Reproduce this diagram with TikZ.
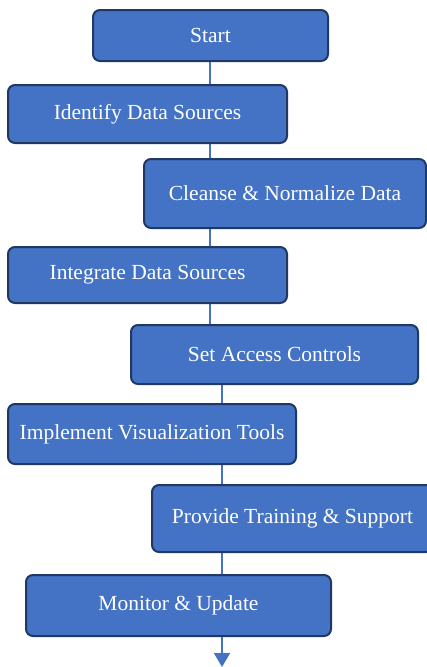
\documentclass[tikz,border=0pt]{standalone}
\usepackage{fontspec}
\setmainfont{Liberation Serif}
\usetikzlibrary{arrows.meta,backgrounds,positioning}
\definecolor{cblue}{RGB}{68,114,196}
\definecolor{cnavy}{RGB}{31,56,100}

\begin{document}
\begin{tikzpicture}[x=1pt,y=-1pt,
    stepbox/.style={rectangle, rounded corners=7pt, draw=cnavy, line width=2pt, fill=cblue,
      text=white, font=\fontsize{21.5}{25}\selectfont, inner sep=0pt},
    flow/.style={cblue, line width=2pt}]
    \useasboundingbox (0,0) rectangle (427,667);

    \node[stepbox, minimum width=235, minimum height=51] (Start) at (210.5,35.5) {Start};
    \node[stepbox, minimum width=279, minimum height=58] (Identify) at (147.5,114) {Identify Data Sources};
    \node[stepbox, minimum width=282, minimum height=69] (Cleanse) at (285,193.5) {Cleanse \& Normalize Data};
    \node[stepbox, minimum width=279, minimum height=56] (Integrate) at (147.5,275) {Integrate Data Sources};
    \node[stepbox, minimum width=287, minimum height=59] (Access) at (274.5,354.5) {Set Access Controls};
    \node[stepbox, minimum width=288, minimum height=60] (Visual) at (152,434) {Implement Visualization Tools};
    \node[stepbox, minimum width=281, minimum height=67] (Training) at (292.5,518.5) {Provide Training \& Support};
    \node[stepbox, minimum width=305, minimum height=61] (Monitor) at (178.5,605.5) {Monitor \& Update};

    \coordinate (SpineA) at (210,0);
    \coordinate (SpineB) at (222,0);
    \coordinate (End) at (222,667);

    \begin{scope}[on background layer]
      \draw[flow] (Start.center -| SpineA) -- (Identify.center -| SpineA);
      \draw[flow] (Identify.center -| SpineA) -- (Cleanse.center -| SpineA);
      \draw[flow] (Cleanse.center -| SpineA) -- (Integrate.center -| SpineA);
      \draw[flow] (Integrate.center -| SpineA) -- (Access.center -| SpineA);
      \draw[flow] (Access.center -| SpineB) -- (Visual.center -| SpineB);
      \draw[flow] (Visual.center -| SpineB) -- (Training.center -| SpineB);
      \draw[flow] (Training.center -| SpineB) -- (Monitor.center -| SpineB);
    \end{scope}
    \draw[flow, -{Triangle[width=16pt,length=14pt]}] (Monitor.south -| SpineB) -- (End);
  \end{tikzpicture}
\end{document}
